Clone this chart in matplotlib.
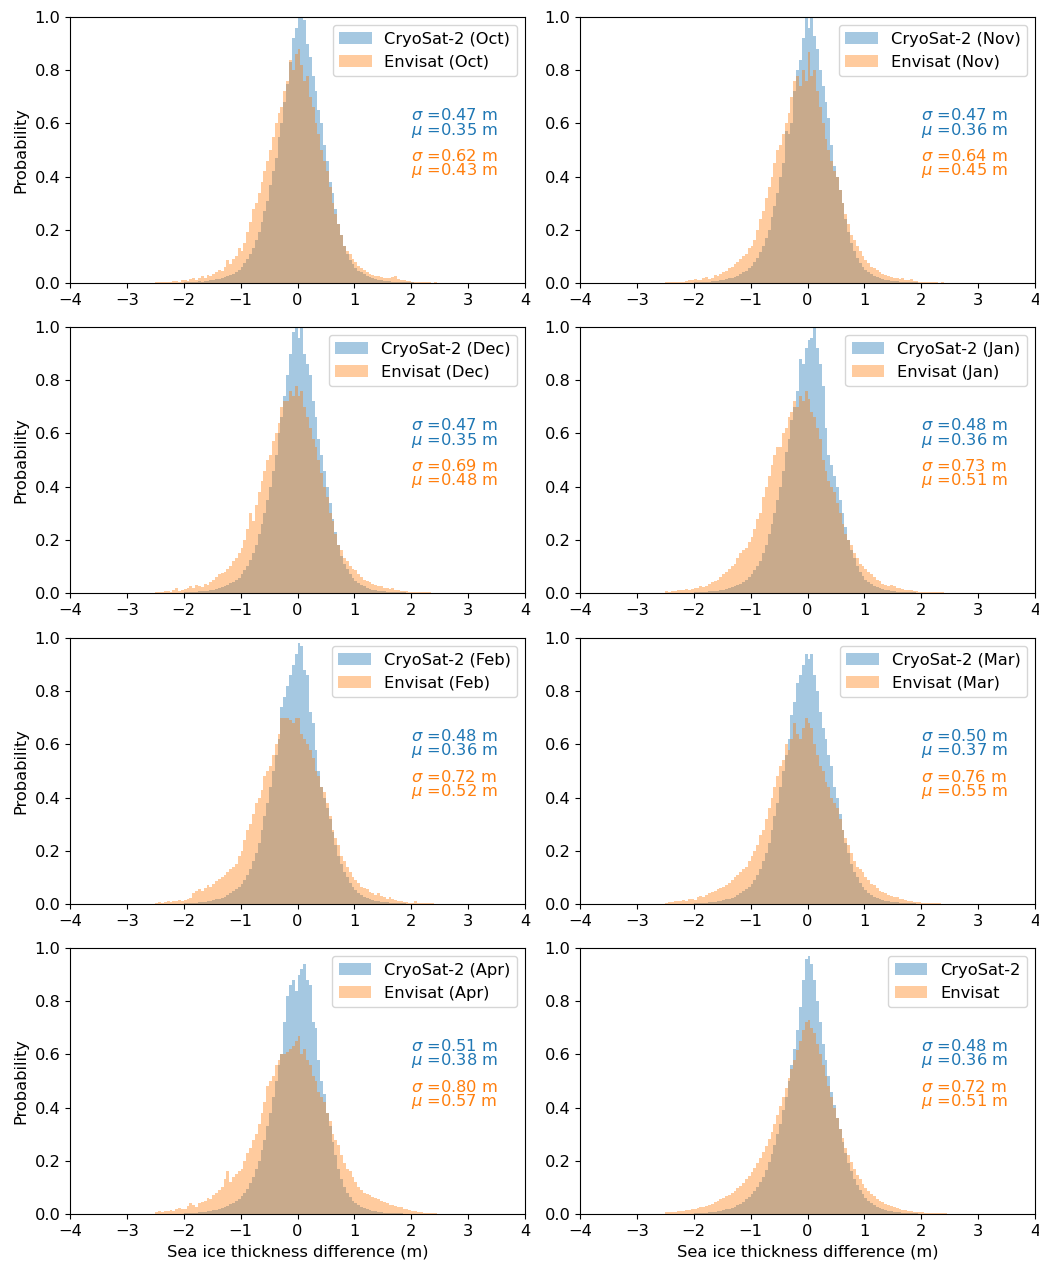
import numpy as np
import matplotlib
matplotlib.use('agg')
import matplotlib.pyplot as plt

# bin heights, bins of 0.05 m from -2.5 to 2.5
OCT_CRYO = [0, 0, 0, 0, 0, 0, 0, 0, 0, 0,
            .003, .004, .003, .005, .004, .006, .005, .007, .008, .010,
            .012, .014, .016, .020, .022, .025, .030, .035, .040, .048,
            .060, .075, .090, .110, .130, .160, .190, .230, .270, .310,
            .370, .420, .470, .550, .600, .680, .750, .830, .920, .960,
            1.02, 1.02, .990, .900, .850, .780, .720, .650, .600, .520,
            .460, .380, .340, .280, .220, .180, .140, .110, .085, .070,
            .055, .045, .040, .032, .026, .021, .018, .014, .012, .010,
            .008, .007, .006, .005, .004, .004, .003, .003, .002, .002,
            .002, .001, .001, 0, 0, 0, 0, 0, 0, 0]
OCT_ENVI = [.003, .002, .004, .003, .005, .004, .006, .008, .005, .010,
            .012, .008, .015, .020, .012, .018, .025, .020, .030, .028,
            .035, .040, .050, .045, .060, .085, .070, .090, .100, .130,
            .120, .150, .190, .230, .280, .300, .340, .380, .420, .460,
            .500, .550, .600, .640, .660, .720, .760, .840, .800, .860,
            .880, .820, .760, .780, .700, .660, .600, .560, .500, .460,
            .420, .360, .300, .260, .220, .180, .140, .120, .110, .090,
            .080, .065, .055, .050, .040, .035, .030, .028, .025, .022,
            .020, .018, .020, .022, .025, .015, .010, .012, .008, .007,
            .005, .004, .003, .004, .002, .003, .002, .001, .002, .001]

NOV_CRYO = [0, 0, 0, 0, 0, 0, 0, 0, 0, 0,
            .002, .003, .003, .004, .005, .004, .006, .007, .008, .010,
            .012, .014, .017, .020, .024, .028, .033, .040, .046, .055,
            .065, .080, .095, .115, .140, .170, .200, .250, .290, .340,
            .400, .450, .570, .560, .600, .720, .800, .840, .920, 1.02,
            .960, 1.02, .930, .880, .800, .740, .680, .620, .520, .440,
            .400, .350, .300, .240, .190, .150, .120, .095, .075, .060,
            .048, .040, .033, .027, .022, .018, .015, .012, .010, .008,
            .007, .006, .005, .004, .003, .003, .002, .002, .002, .001,
            .001, .001, 0, 0, 0, 0, 0, 0, 0, 0]
NOV_ENVI = [.002, .003, .002, .004, .003, .005, .004, .006, .010, .012,
            .015, .010, .012, .018, .022, .014, .020, .030, .025, .035,
            .040, .045, .055, .060, .070, .080, .090, .100, .110, .130,
            .140, .160, .200, .240, .270, .320, .360, .400, .450, .500,
            .520, .560, .600, .640, .700, .760, .780, .740, .800, .760,
            .870, .780, .800, .720, .660, .600, .540, .500, .460, .420,
            .400, .350, .300, .260, .220, .180, .160, .140, .120, .100,
            .085, .075, .060, .055, .050, .040, .035, .030, .028, .022,
            .020, .018, .015, .018, .012, .010, .014, .008, .006, .005,
            .004, .003, .003, .002, .002, .003, .001, .002, .001, .001]

DEC_CRYO = [0, 0, 0, 0, 0, 0, 0, 0, 0, 0,
            .002, .003, .004, .004, .005, .006, .006, .008, .009, .011,
            .013, .016, .019, .022, .026, .030, .036, .042, .050, .058,
            .070, .085, .100, .125, .150, .180, .220, .260, .300, .350,
            .400, .460, .520, .600, .660, .740, .820, .900, .980, 1.02,
            .960, 1.02, .900, .860, .820, .720, .660, .580, .520, .460,
            .400, .340, .280, .230, .180, .140, .110, .090, .070, .055,
            .045, .038, .030, .025, .020, .016, .013, .011, .009, .007,
            .006, .005, .004, .004, .003, .003, .002, .002, .001, .001,
            0, 0, 0, 0, 0, 0, 0, 0, 0, 0]
DEC_ENVI = [.004, .003, .005, .008, .006, .005, .012, .020, .008, .012,
            .015, .020, .025, .018, .030, .025, .022, .035, .030, .040,
            .050, .060, .070, .075, .080, .090, .100, .120, .130, .150,
            .170, .200, .240, .300, .270, .330, .380, .420, .460, .500,
            .520, .570, .600, .640, .700, .720, .720, .760, .740, .780,
            .740, .760, .700, .660, .620, .580, .550, .500, .450, .400,
            .360, .300, .270, .220, .180, .160, .130, .120, .100, .090,
            .085, .070, .060, .050, .045, .040, .035, .030, .028, .025,
            .020, .018, .015, .020, .012, .010, .009, .008, .006, .005,
            .004, .003, .004, .002, .003, .002, .002, .001, .001, .001]

JAN_CRYO = [0, 0, 0, 0, 0, 0, 0, 0, 0, 0,
            .002, .003, .003, .004, .005, .006, .007, .008, .009, .010,
            .012, .015, .018, .021, .025, .030, .035, .041, .050, .060,
            .070, .085, .100, .120, .150, .180, .220, .260, .300, .350,
            .400, .460, .530, .580, .650, .700, .760, .880, .860, .920,
            .950, .960, 1.00, .920, .860, .780, .620, .520, .480, .440,
            .400, .350, .300, .250, .200, .160, .130, .100, .080, .065,
            .050, .042, .035, .028, .023, .018, .015, .012, .010, .008,
            .006, .005, .004, .004, .003, .002, .002, .002, .001, .001,
            0, 0, 0, 0, 0, 0, 0, 0, 0, 0]
JAN_ENVI = [.006, .004, .008, .006, .010, .012, .010, .014, .012, .016,
            .018, .020, .025, .022, .028, .032, .040, .045, .050, .060,
            .070, .080, .090, .100, .110, .130, .150, .160, .170, .190,
            .210, .240, .280, .300, .360, .400, .440, .480, .520, .550,
            .550, .600, .620, .660, .680, .720, .700, .740, .720, .760,
            .730, .680, .660, .620, .580, .500, .460, .420, .400, .380,
            .340, .300, .260, .220, .200, .180, .150, .130, .110, .100,
            .090, .080, .070, .060, .050, .045, .035, .030, .028, .030,
            .025, .020, .018, .015, .012, .010, .012, .008, .006, .005,
            .005, .004, .003, .003, .002, .002, .002, .003, .001, .001]

FEB_CRYO = [0, 0, 0, 0, 0, 0, 0, 0, 0, 0,
            .002, .003, .004, .004, .005, .006, .007, .008, .010, .012,
            .014, .017, .020, .024, .028, .033, .040, .047, .055, .065,
            .075, .090, .110, .130, .160, .190, .230, .280, .330, .380,
            .440, .500, .560, .620, .740, .780, .820, .860, .900, .940,
            .980, .970, .880, .860, .720, .680, .580, .500, .440, .400,
            .360, .320, .270, .220, .180, .150, .120, .100, .080, .065,
            .052, .043, .035, .028, .023, .019, .015, .012, .010, .008,
            .007, .006, .005, .004, .003, .003, .002, .002, .001, .001,
            0, 0, 0, 0, 0, 0, 0, 0, 0, 0]
FEB_ENVI = [.004, .006, .005, .008, .010, .008, .012, .010, .014, .012,
            .015, .018, .022, .040, .050, .055, .050, .060, .070, .065,
            .075, .085, .095, .100, .110, .120, .130, .140, .150, .180,
            .200, .240, .280, .300, .340, .380, .400, .430, .480, .500,
            .520, .560, .600, .640, .700, .700, .700, .690, .680, .700,
            .700, .640, .620, .600, .580, .550, .500, .480, .440, .420,
            .380, .330, .280, .250, .220, .180, .160, .140, .120, .100,
            .090, .080, .065, .060, .055, .045, .040, .035, .040, .030,
            .025, .020, .025, .018, .015, .012, .010, .008, .006, .005,
            .004, .012, .003, .004, .002, .003, .002, .002, .001, .001]

MAR_CRYO = [0, 0, 0, 0, 0, 0, 0, 0, 0, 0,
            .002, .003, .004, .004, .005, .006, .007, .008, .010, .012,
            .014, .017, .020, .024, .028, .033, .040, .047, .055, .065,
            .075, .090, .110, .130, .160, .190, .230, .280, .330, .380,
            .440, .500, .560, .620, .710, .760, .830, .860, .900, .940,
            .920, .940, .860, .800, .720, .660, .620, .560, .520, .440,
            .400, .340, .280, .230, .190, .150, .120, .100, .080, .065,
            .052, .043, .035, .028, .023, .019, .015, .012, .010, .008,
            .007, .006, .005, .004, .003, .003, .002, .002, .001, .001,
            0, 0, 0, 0, 0, 0, 0, 0, 0, 0]
MAR_ENVI = [.005, .008, .006, .010, .012, .010, .014, .012, .020, .018,
            .015, .025, .030, .028, .035, .040, .045, .050, .055, .060,
            .065, .070, .080, .090, .100, .110, .120, .130, .140, .160,
            .180, .200, .220, .260, .280, .320, .360, .400, .440, .480,
            .520, .540, .600, .580, .620, .680, .640, .620, .660, .700,
            .680, .660, .600, .560, .520, .500, .460, .440, .400, .380,
            .360, .320, .280, .250, .220, .190, .160, .140, .130, .120,
            .100, .090, .075, .070, .060, .050, .045, .040, .035, .030,
            .028, .025, .020, .018, .015, .012, .010, .008, .007, .006,
            .005, .004, .004, .003, .003, .002, .002, .001, .001, .001]

APR_CRYO = [0, 0, 0, 0, 0, 0, 0, 0, 0, 0,
            .002, .003, .004, .004, .005, .006, .007, .008, .010, .012,
            .014, .016, .019, .022, .026, .030, .036, .042, .050, .058,
            .068, .080, .095, .115, .140, .170, .200, .240, .280, .330,
            .380, .440, .500, .560, .600, .720, .820, .860, .880, .840,
            .900, .920, .940, .880, .860, .720, .700, .580, .500, .450,
            .380, .330, .270, .220, .170, .130, .100, .080, .065, .050,
            .040, .033, .027, .022, .018, .015, .012, .010, .008, .006,
            .005, .004, .004, .003, .002, .002, .002, .001, .001, .001,
            0, 0, 0, 0, 0, 0, 0, 0, 0, 0]
APR_ENVI = [.006, .010, .008, .012, .010, .015, .012, .018, .022, .020,
            .018, .030, .040, .035, .025, .040, .045, .050, .060, .055,
            .070, .080, .090, .100, .130, .160, .120, .140, .150, .160,
            .170, .200, .230, .250, .280, .300, .340, .380, .420, .480,
            .500, .520, .560, .580, .600, .600, .610, .620, .630, .650,
            .670, .600, .620, .580, .560, .520, .500, .460, .440, .420,
            .380, .350, .300, .280, .260, .220, .190, .170, .160, .140,
            .120, .100, .090, .080, .075, .070, .065, .060, .055, .050,
            .045, .040, .035, .032, .030, .028, .025, .020, .018, .015,
            .012, .010, .008, .006, .005, .004, .003, .002, .002, .001]

ALL_CRYO = [0, 0, 0, 0, 0, 0, 0, 0, 0, 0,
            .002, .003, .003, .004, .005, .006, .007, .008, .010, .012,
            .015, .017, .020, .024, .028, .033, .039, .046, .055, .064,
            .075, .088, .102, .120, .140, .165, .195, .225, .260, .300,
            .340, .390, .440, .500, .560, .620, .690, .780, .880, .960,
            .970, .940, .880, .800, .720, .640, .580, .520, .460, .410,
            .360, .320, .270, .230, .190, .160, .130, .110, .090, .075,
            .062, .050, .042, .035, .028, .023, .019, .015, .012, .010,
            .008, .007, .006, .005, .004, .003, .003, .002, .002, .001,
            .001, .001, 0, 0, 0, 0, 0, 0, 0, 0]
ALL_ENVI = [.006, .007, .008, .009, .010, .011, .012, .014, .016, .018,
            .020, .022, .025, .028, .031, .035, .039, .044, .049, .055,
            .060, .066, .073, .080, .088, .097, .107, .118, .130, .143,
            .157, .172, .190, .210, .232, .256, .282, .310, .340, .372,
            .405, .440, .475, .510, .545, .580, .615, .650, .690, .720,
            .730, .700, .680, .640, .600, .560, .520, .480, .440, .400,
            .360, .320, .285, .250, .220, .195, .170, .148, .130, .113,
            .098, .086, .075, .066, .058, .050, .044, .038, .033, .029,
            .025, .022, .019, .016, .014, .012, .010, .009, .008, .007,
            .006, .005, .004, .004, .003, .003, .002, .002, .002, .001]

months = ['Oct', 'Nov', 'Dec', 'Jan', 'Feb', 'Mar', 'Apr', '']
cryo_data = [OCT_CRYO, NOV_CRYO, DEC_CRYO, JAN_CRYO, FEB_CRYO, MAR_CRYO, APR_CRYO, ALL_CRYO]
envi_data = [OCT_ENVI, NOV_ENVI, DEC_ENVI, JAN_ENVI, FEB_ENVI, MAR_ENVI, APR_ENVI, ALL_ENVI]
cryo_sigma = [0.47, 0.47, 0.47, 0.48, 0.48, 0.50, 0.51, 0.48]
cryo_mu = [0.35, 0.36, 0.35, 0.36, 0.36, 0.37, 0.38, 0.36]
envi_sigma = [0.62, 0.64, 0.69, 0.73, 0.72, 0.76, 0.80, 0.72]
envi_mu = [0.43, 0.45, 0.48, 0.51, 0.52, 0.55, 0.57, 0.51]

edges = np.linspace(-2.5, 2.5, 101)
centers = edges[:-1] + 0.025

plt.rcParams['font.family'] = 'DejaVu Sans'
plt.rcParams['mathtext.fontset'] = 'dejavusans'
plt.rcParams['font.size'] = 11.7
fig = plt.figure(figsize=(10.39, 12.65), dpi=100)

lefts = [70 / 1039, 580 / 1039]
bottoms = [1 - 283 / 1265, 1 - 593 / 1265, 1 - 904 / 1265, 1 - 1214 / 1265]
w = 455 / 1039
h = 266 / 1265

for k in range(8):
    row, col = k // 2, k % 2
    ax = fig.add_axes([lefts[col], bottoms[row], w, h])
    suffix = f' ({months[k]})' if months[k] else ''
    ax.hist(centers, bins=edges, weights=cryo_data[k], color='C0', alpha=0.4,
            label='CryoSat-2' + suffix)
    ax.hist(centers, bins=edges, weights=envi_data[k], color='C1', alpha=0.4,
            label='Envisat' + suffix)
    ax.set_xlim(-4, 4)
    ax.set_ylim(0, 1.0)
    ax.set_xticks(range(-4, 5))
    ax.set_yticks([0, 0.2, 0.4, 0.6, 0.8, 1.0])
    ax.set_yticklabels(['0.0', '0.2', '0.4', '0.6', '0.8', '1.0'])
    ax.legend(loc='upper right')
    ax.text(2.0, 0.60, f'$\\sigma$ ={cryo_sigma[k]:.2f} m\n$\\mu$ ={cryo_mu[k]:.2f} m',
            color='C0', va='center', linespacing=0.8, fontsize=11.7)
    ax.text(2.0, 0.447, f'$\\sigma$ ={envi_sigma[k]:.2f} m\n$\\mu$ ={envi_mu[k]:.2f} m',
            color='C1', va='center', linespacing=0.8, fontsize=11.7)
    if col == 0:
        ax.set_ylabel('Probability')
    if row == 3:
        ax.set_xlabel('Sea ice thickness difference (m)')

fig.savefig('out.png', dpi=100)
